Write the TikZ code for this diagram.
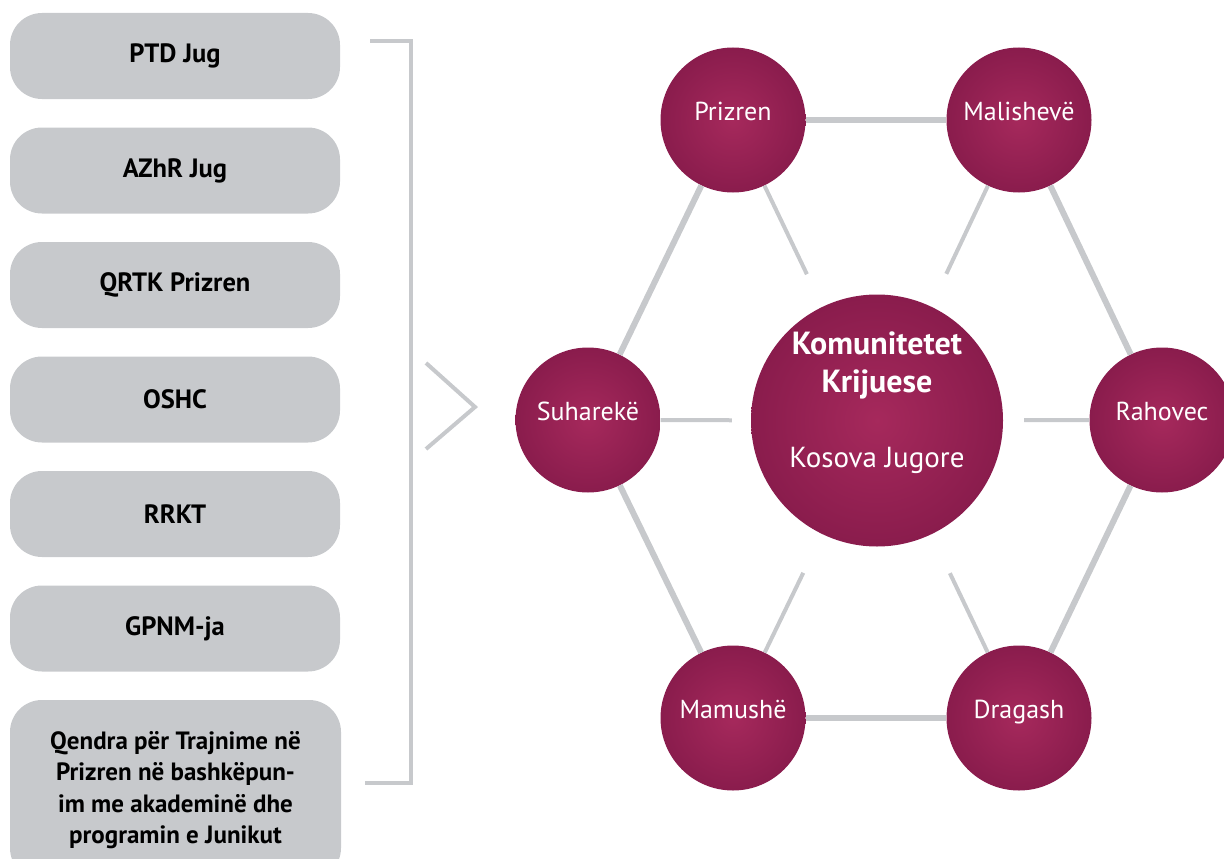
\documentclass[tikz,border=0pt]{standalone}
\usepackage{fontspec}
\setmainfont{PT Sans}
\usepackage{tikz}
\usetikzlibrary{positioning,calc}

\begin{document}
\begin{tikzpicture}[
            x=1pt, y=-1pt,
            orgbox/.style={rounded corners=32pt,fill=boxgray,minimum width=330pt,minimum height=86pt,inner sep=0pt,align=center,font=\bfseries\fontsize{26.5}{31.5}\selectfont},
            town/.style={circle,shading=radial,inner color=hubin,outer color=hubout,minimum size=145pt,inner sep=0pt,text=white,text height=12pt,text depth=12pt,font=\fontsize{26}{30}\selectfont},
            rim/.style={draw=linegray,line width=6pt},
            spoke/.style={draw=linegray,line width=4pt},
            bracket/.style={draw=linegray,line width=4pt}
        ]

        % Define colors
        \definecolor{boxgray}{rgb}{0.78,0.79,0.80};
        \definecolor{linegray}{rgb}{0.78,0.79,0.80};
        \definecolor{hubin}{rgb}{0.65,0.16,0.36};
        \definecolor{hubout}{rgb}{0.54,0.11,0.30};

        % Fix the page
        \clip (0,0) rectangle (1224,859);

        % Draw the list of partners
        \node[orgbox] (ptd) at (175,56) {PTD Jug};
        \node[orgbox] (azhr) at (175,170.5) {AZhR Jug};
        \node[orgbox] (qrtk) at (175,285) {QRTK Prizren};
        \node[orgbox] (oshc) at (175,399.5) {OSHC};
        \node[orgbox] (rrkt) at (175,514) {RRKT};
        \node[orgbox] (gpnm) at (175,628.5) {GPNM-ja};
        \node[orgbox,minimum width=331pt,minimum height=180pt,font=\bfseries\fontsize{25}{31.5}\selectfont] (qendra) at (175.5,790)
            {Qendra për Trajnime në\\Prizren në bashkëpun-\\im me akademinë dhe\\programin e Junikut};

        % Define the bracket and the chevron
        \coordinate (brtop) at (370,41);
        \coordinate (brtopcorner) at (411,41);
        \coordinate (brbotcorner) at (411,783);
        \coordinate (brbot) at (365,783);
        \coordinate (chevA) at (426,363);
        \coordinate (chevtip) at (475,407);
        \coordinate (chevB) at (426,449);

        \draw[bracket] (brtop) -- (brtopcorner) -- (brbotcorner) -- (brbot);
        \draw[bracket] (chevA) -- (chevtip) -- (chevB);

        % Draw the towns and the centre
        \node[town] (prizren) at (733,120) {Prizren};
        \node[town] (malisheve) at (1019,120) {Malishevë};
        \node[town] (suhareke) at (588,420) {Suharekë};
        \node[town] (rahovec) at (1162,420) {Rahovec};
        \node[town] (mamushe) at (733,718) {Mamushë};
        \node[town] (dragash) at (1019,718) {Dragash};
        \node[town,minimum size=252pt] (hub) at (877,420.5) {};
        \node[text=white,align=center,font=\bfseries\fontsize{32}{38}\selectfont] (hubtitle) at (877,403)
            {Komunitetet\\Krijuese\\[37pt]\mdseries\fontsize{29}{38}\selectfont Kosova Jugore};

        % Draw the outer ring
        \draw[rim] (prizren) -- (malisheve);
        \draw[rim] (malisheve) -- (rahovec);
        \draw[rim] (rahovec) -- (dragash);
        \draw[rim] (dragash) -- (mamushe);
        \draw[rim] (mamushe) -- (suhareke);
        \draw[rim] (suhareke) -- (prizren);

        % Draw the spokes towards the centre
        \draw[spoke,shorten >=36pt] (prizren) -- (hub);
        \draw[spoke,shorten >=36pt] (malisheve) -- (hub);
        \draw[spoke,shorten >=19pt] (suhareke) -- (hub);
        \draw[spoke,shorten >=21pt] (rahovec) -- (hub);
        \draw[spoke,shorten >=43pt] (mamushe) -- (hub);
        \draw[spoke,shorten >=43pt] (dragash) -- (hub);

        \end{tikzpicture}
\end{document}
